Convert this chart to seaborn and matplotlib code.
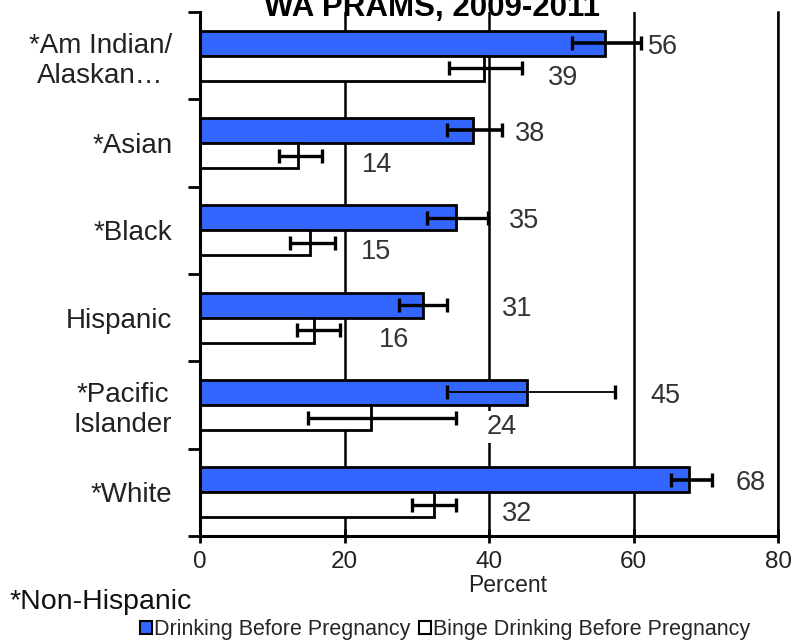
import numpy as np
import pandas as pd
import matplotlib
matplotlib.use("Agg")
import matplotlib.pyplot as plt
import seaborn as sns
from matplotlib.patches import Patch

# ---------------- data ----------------
groups = ["*Am Indian/\nAlaskan\u2026", "*Asian", "*Black", "Hispanic",
          "*Pacific\nIslander", "*White"]
series = ["Drinking Before Pregnancy", "Binge Drinking Before Pregnancy"]
drinking = [56.1, 37.8, 35.4, 30.9, 45.3, 67.7]
drinking_lo = [51.5, 34.2, 31.4, 27.6, 34.2, 65.2]
drinking_hi = [61.0, 41.8, 39.9, 34.2, 57.5, 70.8]
binge = [39.3, 13.6, 15.2, 15.8, 23.6, 32.4]
binge_lo = [34.5, 11.0, 12.5, 13.4, 14.9, 29.4]
binge_hi = [44.5, 16.9, 18.7, 19.4, 35.5, 35.5]
x_ticks = [0, 20, 40, 60, 80]
title = "WA PRAMS, 2009-2011"
x_label = "Percent"
footnote = "*Non-Hispanic"

# ---------------- layout / style ----------------
colors = ["#3366FF", "#FFFFFF"]
label_x_drinking = [62.0, 43.6, 42.7, 41.8, 62.3, 74.1]
label_x_binge = [48.2, 22.4, 22.2, 24.7, 39.7, 41.8]
err_lw_drinking = [2.6, 2.6, 2.4, 2.4, 1.3, 2.6]
err_lw_binge = [2.4, 2.4, 2.4, 2.4, 2.4, 2.4]

sns.set_style("ticks")
plt.rcParams["font.family"] = ["Liberation Sans", "DejaVu Sans"]

df = pd.DataFrame({
    "group": groups * 2,
    "series": [series[0]] * len(groups) + [series[1]] * len(groups),
    "value": drinking + binge,
})

fig = plt.figure(figsize=(7.94, 6.41), dpi=100)
ax = fig.add_axes([200 / 794, 1 - 536 / 641, 578 / 794, 524 / 641])

sns.barplot(data=df, x="value", y="group", hue="series", order=groups,
            hue_order=series, palette=colors, orient="h", width=0.575,
            errorbar=None, edgecolor="black", linewidth=2.0, saturation=1,
            legend=False, zorder=2, ax=ax)

ax.set_xlim(0, 80)
ax.set_ylim(len(groups) - 0.5, -0.5)
ax.set_xticks(x_ticks)
ax.set_xticklabels([str(t) for t in x_ticks])
ax.grid(axis="x", color="black", lw=1.8, zorder=0)
ax.grid(axis="y", visible=False)
ax.set_axisbelow(True)

# y ticks at category boundaries, labels at centres
ax.set_yticks(np.arange(-0.5, len(groups), 1.0))
ax.set_yticklabels([])
ax.set_yticks(np.arange(len(groups)), minor=True)
ax.set_yticklabels(groups, minor=True)
ax.tick_params(axis="y", which="major", direction="out", length=9, width=2,
               color="black")
ax.tick_params(axis="y", which="minor", length=0, pad=20, labelsize=20,
               labelcolor="#222222")
for t in ax.get_yticklabels(minor=True):
    t.set_multialignment("center")
ax.tick_params(axis="x", direction="inout", length=10, width=2, pad=6,
               labelsize=17.5, labelcolor="#222222", color="black")

for s in ["left", "bottom", "right"]:
    ax.spines[s].set_visible(True)
    ax.spines[s].set_color("black")
ax.spines["left"].set_linewidth(2.2)
ax.spines["bottom"].set_linewidth(2.2)
ax.spines["right"].set_linewidth(1.8)
ax.spines["top"].set_visible(False)

ax.set_ylabel("")
ax.set_xlabel(x_label, fontsize=16.5, color="#222222", va="center")
ax.xaxis.set_label_coords((508 - 200) / 578, (536 - 585) / 524)

# error bars + value labels
sets = [
    (drinking, drinking_lo, drinking_hi, label_x_drinking, err_lw_drinking, 0.04),
    (binge, binge_lo, binge_hi, label_x_binge, err_lw_binge, 0.11),
]
for cont, (vals, lo, hi, lx, elw, dy) in zip(ax.containers, sets):
    for patch, v, l, h, x_lab, w in zip(cont.patches, vals, lo, hi, lx, elw):
        yc = patch.get_y() + patch.get_height() / 2
        ax.errorbar([v], [yc], xerr=[[v - l], [h - v]], fmt="none",
                    ecolor="black", elinewidth=w, capsize=4.7, capthick=2.4,
                    zorder=4)
        ax.text(x_lab, yc + dy, f"{round(v)}", ha="left", va="center",
                fontsize=19.5, color="#333333", zorder=5,
                bbox=dict(boxstyle="square,pad=0.1", fc="white", ec="none"))

fig.text(432 / 794, 1 - 16 / 641, title, ha="center", va="baseline",
         fontsize=22.5, fontweight="bold", color="black")
fig.text(10 / 794, 1 - 602 / 641, footnote, ha="left", va="center",
         fontsize=20.5, color="#111111")

handles = [Patch(facecolor=c, edgecolor="black", lw=1.5) for c in colors]
fig.legend(handles, series, loc="center", bbox_to_anchor=(445 / 794, 1 - 630 / 641),
           ncol=2, frameon=False, handlelength=0.55, handleheight=0.55,
           handletextpad=0.1, columnspacing=0.4, fontsize=15.5,
           borderaxespad=0, borderpad=0)

fig.savefig("out.png", dpi=100)
